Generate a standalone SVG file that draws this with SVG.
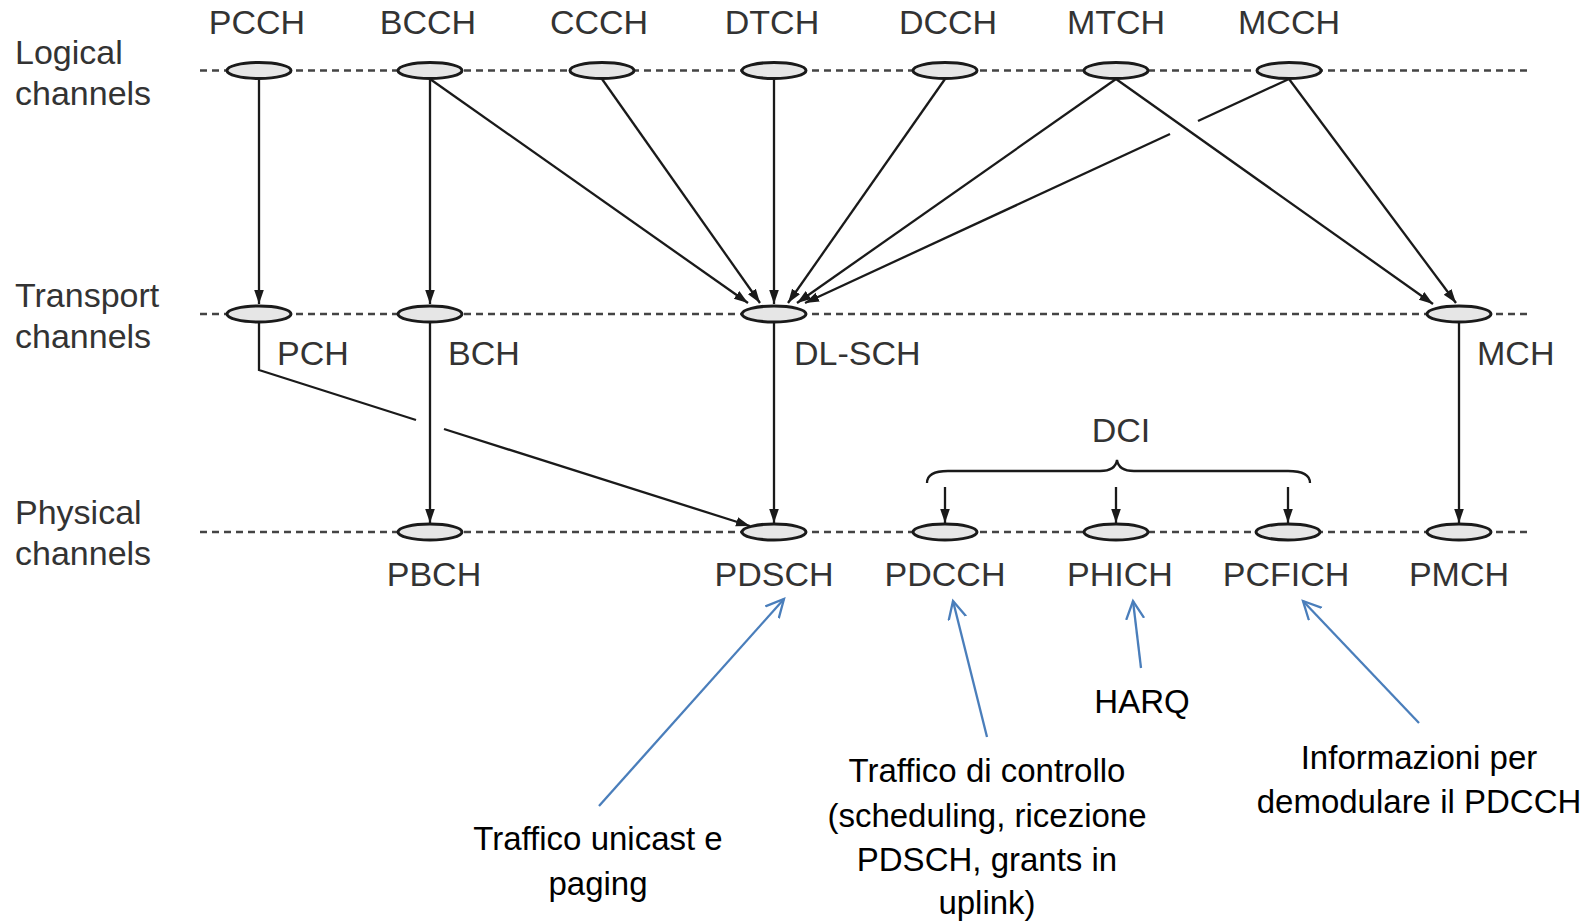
<svg xmlns="http://www.w3.org/2000/svg" width="1591" height="922" viewBox="0 0 1591 922">
<style>
.bg{fill:#fff}
.lvl{stroke:#444;stroke-width:2.6;stroke-dasharray:7 5;fill:none}
.ch{fill:#e6e6e6;stroke:#1a1a1a;stroke-width:3}
.lbl{font-family:"Liberation Sans",Arial,sans-serif;font-size:34px;fill:#333}
.side{font-family:"Liberation Sans",Arial,sans-serif;font-size:34px;fill:#333}
.ln{stroke:#1a1a1a;stroke-width:2.3;fill:none}
.arr{stroke:#1a1a1a;stroke-width:2.3;fill:none;marker-end:url(#ah)}
.blue{stroke:#4A7EBB;stroke-width:2.3;fill:none;marker-end:url(#oh)}
.note{font-family:"Liberation Sans",Arial,sans-serif;font-size:33px;fill:#000;text-anchor:middle}
</style>
<defs>
<marker id="ah" markerWidth="16" markerHeight="12" refX="14" refY="6" orient="auto" markerUnits="userSpaceOnUse"><path d="M0,1.2 L14,6 L0,10.8 Z" fill="#1a1a1a"/></marker>
<marker id="oh" markerWidth="22" markerHeight="22" refX="18" refY="10" orient="auto" markerUnits="userSpaceOnUse"><path d="M0,1 L18,10 L0,19" fill="none" stroke="#4A7EBB" stroke-width="2.3"/></marker>
</defs>
<rect class="bg" x="0" y="0" width="1591" height="922"/>
<g id="levels">
<line class="lvl" x1="200" y1="70.5" x2="1530" y2="70.5"/>
<line class="lvl" x1="200" y1="314" x2="1530" y2="314"/>
<line class="lvl" x1="200" y1="532" x2="1530" y2="532"/>
<text class="side" x="15" y="64">Logical</text>
<text class="side" x="15" y="105">channels</text>
<text class="side" x="15" y="307">Transport</text>
<text class="side" x="15" y="348">channels</text>
<text class="side" x="15" y="524">Physical</text>
<text class="side" x="15" y="565">channels</text>
</g>
<g id="connectors">
<line class="arr" x1="259" y1="79" x2="259" y2="304"/>
<line class="arr" x1="430" y1="79" x2="430" y2="304"/>
<line class="arr" x1="430" y1="79" x2="748" y2="303"/>
<line class="arr" x1="602" y1="79" x2="760" y2="303"/>
<line class="arr" x1="774" y1="79" x2="774" y2="304"/>
<line class="arr" x1="945" y1="79" x2="788" y2="303"/>
<line class="arr" x1="1116" y1="79" x2="797" y2="303"/>
<line class="ln" x1="1289" y1="79" x2="1198" y2="121"/>
<line class="arr" x1="1170" y1="134" x2="805" y2="303"/>
<line class="arr" x1="1116" y1="79" x2="1433" y2="304"/>
<line class="arr" x1="1289" y1="79" x2="1456" y2="303"/>
<polyline class="ln" stroke-width="2.7" points="259,322 259,370 416,420"/>
<line class="arr" x1="444" y1="429" x2="750" y2="526"/>
<line class="arr" x1="430" y1="322" x2="430" y2="523"/>
<line class="arr" x1="774" y1="322" x2="774" y2="523"/>
<line class="arr" x1="1459" y1="322" x2="1459" y2="523"/>
<path class="ln" d="M927,483 C927,475 934,471 948,471 L1100,471 C1110,471 1116,467 1117,460 C1118,467 1124,471 1134,471 L1288,471 C1302,471 1310,475 1310,483"/>
<line class="arr" x1="945" y1="487" x2="945" y2="523"/>
<line class="arr" x1="1116" y1="487" x2="1116" y2="523"/>
<line class="arr" x1="1288" y1="487" x2="1288" y2="523"/>
<line class="blue" x1="599" y1="806" x2="784" y2="599"/>
<line class="blue" x1="987" y1="737" x2="953" y2="601"/>
<line class="blue" x1="1141" y1="668" x2="1133" y2="601"/>
<line class="blue" x1="1419" y1="723" x2="1303" y2="601"/>
</g>
<g id="PCCH"><ellipse class="ch" cx="259" cy="70.5" rx="32" ry="8"/><text class="lbl" x="257" y="34" text-anchor="middle">PCCH</text></g>
<g id="BCCH"><ellipse class="ch" cx="430" cy="70.5" rx="32" ry="8"/><text class="lbl" x="428" y="34" text-anchor="middle">BCCH</text></g>
<g id="CCCH"><ellipse class="ch" cx="602" cy="70.5" rx="32" ry="8"/><text class="lbl" x="599" y="34" text-anchor="middle">CCCH</text></g>
<g id="DTCH"><ellipse class="ch" cx="774" cy="70.5" rx="32" ry="8"/><text class="lbl" x="772" y="34" text-anchor="middle">DTCH</text></g>
<g id="DCCH"><ellipse class="ch" cx="945" cy="70.5" rx="32" ry="8"/><text class="lbl" x="948" y="34" text-anchor="middle">DCCH</text></g>
<g id="MTCH"><ellipse class="ch" cx="1116" cy="70.5" rx="32" ry="8"/><text class="lbl" x="1116" y="34" text-anchor="middle">MTCH</text></g>
<g id="MCCH"><ellipse class="ch" cx="1289" cy="70.5" rx="32" ry="8"/><text class="lbl" x="1289" y="34" text-anchor="middle">MCCH</text></g>
<g id="PCH"><ellipse class="ch" cx="259" cy="314" rx="32" ry="8"/><text class="lbl" x="277" y="365">PCH</text></g>
<g id="BCH"><ellipse class="ch" cx="430" cy="314" rx="32" ry="8"/><text class="lbl" x="448" y="365">BCH</text></g>
<g id="DL-SCH"><ellipse class="ch" cx="774" cy="314" rx="32" ry="8"/><text class="lbl" x="794" y="365">DL-SCH</text></g>
<g id="MCH"><ellipse class="ch" cx="1459" cy="314" rx="32" ry="8"/><text class="lbl" x="1477" y="365">MCH</text></g>
<g id="PBCH"><ellipse class="ch" cx="430" cy="532" rx="32" ry="8"/><text class="lbl" x="434" y="586" text-anchor="middle">PBCH</text></g>
<g id="PDSCH"><ellipse class="ch" cx="774" cy="532" rx="32" ry="8"/><text class="lbl" x="774" y="586" text-anchor="middle">PDSCH</text></g>
<g id="PDCCH"><ellipse class="ch" cx="945" cy="532" rx="32" ry="8"/><text class="lbl" x="945" y="586" text-anchor="middle">PDCCH</text></g>
<g id="PHICH"><ellipse class="ch" cx="1116" cy="532" rx="32" ry="8"/><text class="lbl" x="1120" y="586" text-anchor="middle">PHICH</text></g>
<g id="PCFICH"><ellipse class="ch" cx="1288" cy="532" rx="32" ry="8"/><text class="lbl" x="1286" y="586" text-anchor="middle">PCFICH</text></g>
<g id="PMCH"><ellipse class="ch" cx="1459" cy="532" rx="32" ry="8"/><text class="lbl" x="1459" y="586" text-anchor="middle">PMCH</text></g>
<g id="DCI"><text class="lbl" x="1121" y="442" text-anchor="middle" font-size="32">DCI</text></g>
<g id="note-pdsch"><text class="note" x="598" y="850">Traffico unicast e</text><text class="note" x="598" y="895">paging</text></g>
<g id="note-pdcch"><text class="note" x="987" y="782">Traffico di controllo</text><text class="note" x="987" y="827">(scheduling, ricezione</text><text class="note" x="987" y="871">PDSCH, grants in</text><text class="note" x="987" y="914">uplink)</text></g>
<g id="note-phich"><text class="note" x="1142" y="713">HARQ</text></g>
<g id="note-pcfich"><text class="note" x="1419" y="769">Informazioni per</text><text class="note" x="1419" y="813">demodulare il PDCCH</text></g>
</svg>
